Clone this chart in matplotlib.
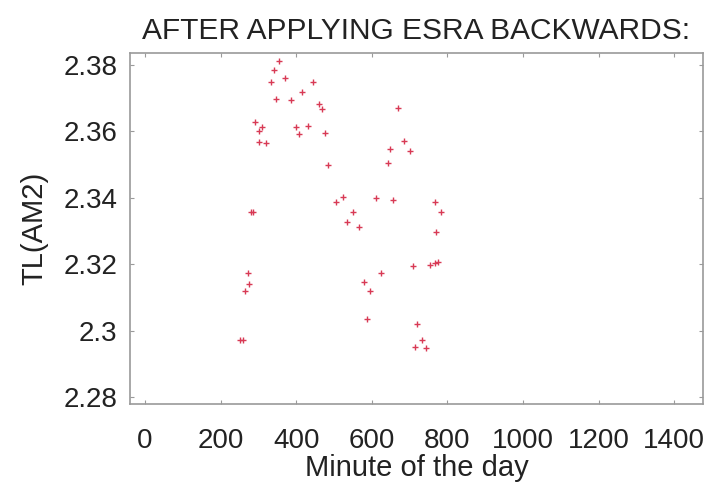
import numpy as np
import matplotlib
matplotlib.use("Agg")
import matplotlib.pyplot as plt

plt.rcParams['font.family'] = ['Liberation Sans', 'DejaVu Sans']

# minute of the day / TL(AM2) values
minute = [354, 341, 370, 333, 444, 415, 347, 386, 460, 468,
          291, 310, 302, 399, 431, 407, 476, 302, 320, 484,
          280, 286, 272, 275, 265, 250, 258,
          669, 685, 648, 701, 643, 524, 505, 611, 656, 767,
          550, 783, 534, 566, 770,
          709, 754, 767, 775, 624, 579, 595, 587, 720, 733, 714, 743]
tl = [2.3813, 2.3785, 2.3761, 2.3749, 2.3749, 2.3719, 2.3698, 2.3695, 2.3683, 2.3667,
      2.3628, 2.3613, 2.3601, 2.3613, 2.3616, 2.3592, 2.3595, 2.3568, 2.3565, 2.3499,
      2.3357, 2.3357, 2.3173, 2.3140, 2.3119, 2.2972, 2.2972,
      2.3670, 2.3571, 2.3547, 2.3541, 2.3505, 2.3402, 2.3387, 2.3399, 2.3393, 2.3387,
      2.3357, 2.3357, 2.3327, 2.3312, 2.3297,
      2.3195, 2.3198, 2.3204, 2.3207, 2.3173, 2.3146, 2.3119, 2.3035, 2.3020, 2.2972, 2.2951, 2.2948]

xticks = [0, 200, 400, 600, 800, 1000, 1200, 1400]
yticks = [2.28, 2.30, 2.32, 2.34, 2.36, 2.38]
ytick_labels = ['2.28', '2.3', '2.32', '2.34', '2.36', '2.38']

fig = plt.figure(figsize=(7.23, 4.9), dpi=100)
ax = fig.add_axes([0.1798, 0.1755, 0.7925, 0.7169])

ax.plot(minute, tl, linestyle='none', marker='+', color='#d83a55',
        markersize=5, markeredgewidth=1.0)

ax.set_xlim(-40, 1476)
ax.set_ylim(2.2779, 2.3837)
ax.set_xticks(xticks)
ax.set_yticks(yticks)
ax.set_yticklabels(ytick_labels)

for s in ax.spines.values():
    s.set_color('#9a9a9a')
    s.set_linewidth(1.2)
ax.tick_params(direction='in', length=3, color='#9a9a9a', top=True, right=True,
               labelsize=20, labelcolor='#222222')
ax.tick_params(axis='x', pad=17)
ax.tick_params(axis='y', pad=9)

ax.set_xlabel('Minute of the day', fontsize=21, color='#222222', labelpad=0)
ax.set_ylabel('TL(AM2)', fontsize=21, color='#222222', labelpad=11)
ax.set_title('AFTER APPLYING ESRA BACKWARDS:', fontsize=21.5, color='#222222', pad=10)

fig.savefig('out.png', dpi=100)
